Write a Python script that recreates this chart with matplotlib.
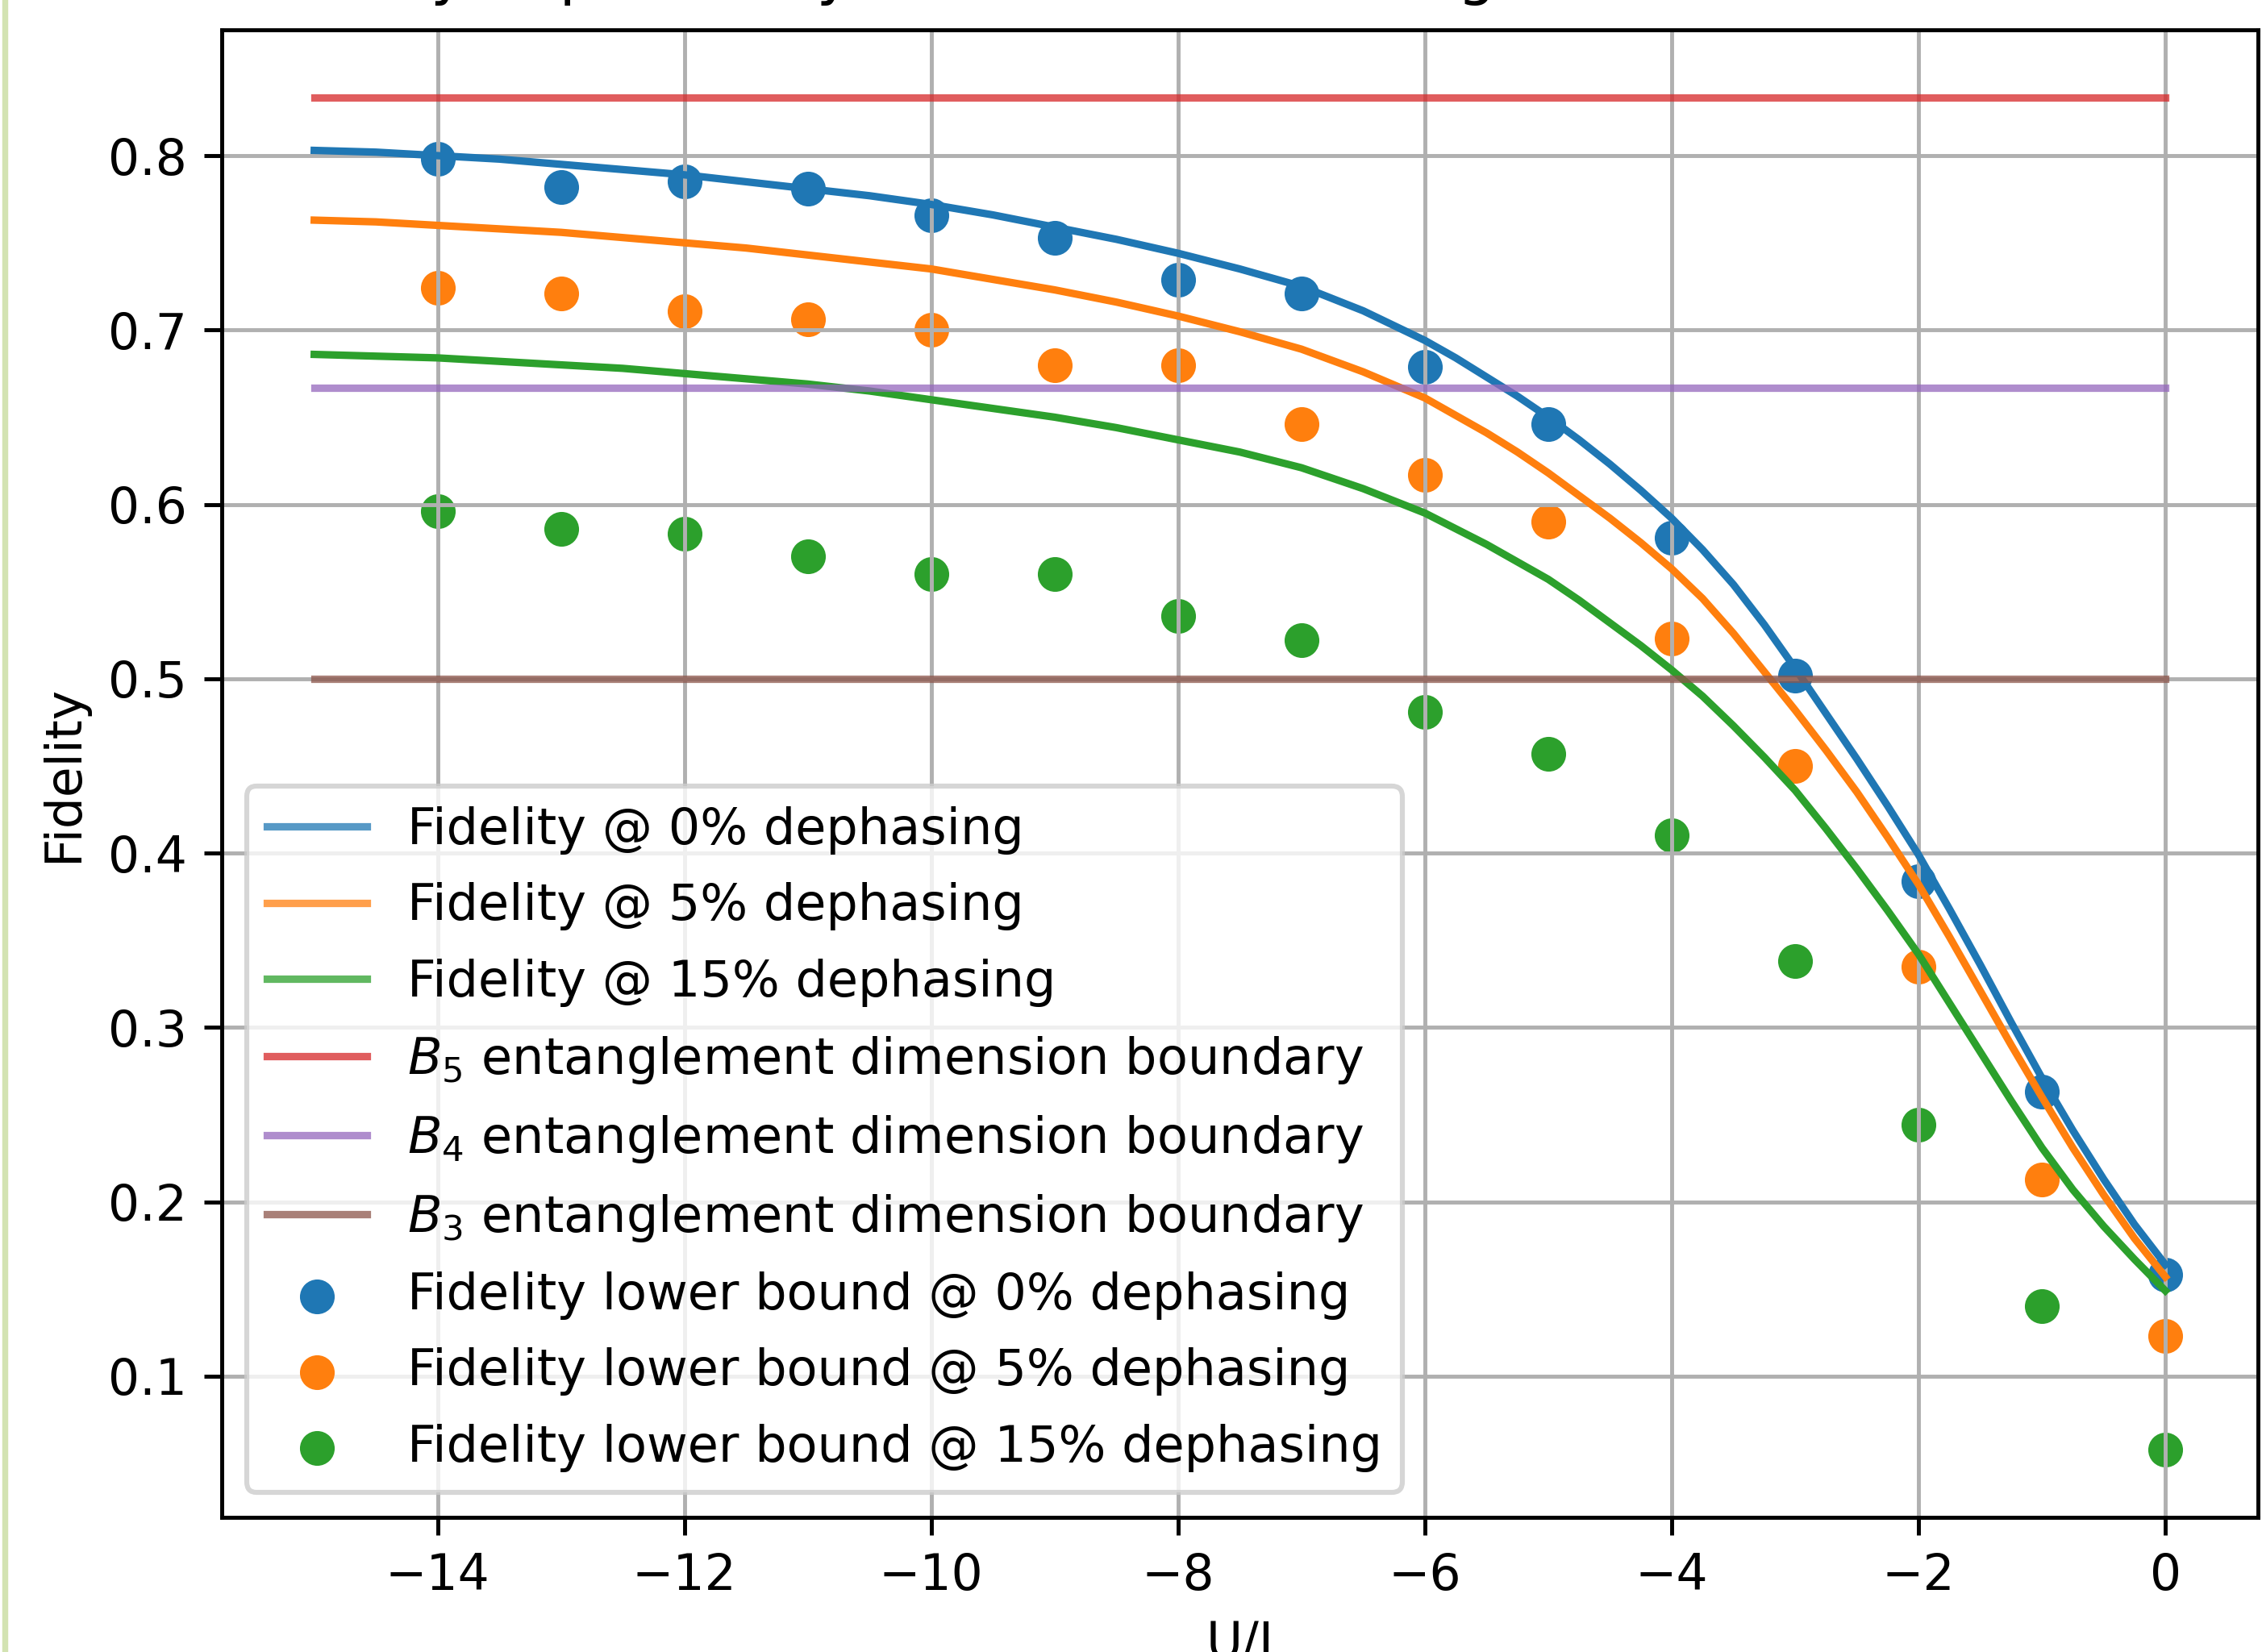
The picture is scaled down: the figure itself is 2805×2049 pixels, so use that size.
import matplotlib.pyplot as plt
from matplotlib.lines import Line2D

# U/J values of the lower-bound points
u_points = [-14, -13, -12, -11, -10, -9, -8, -7, -6, -5, -4, -3, -2, -1, 0]

# fidelity lower bound (dots)
lb_0 = [0.798, 0.782, 0.785, 0.781, 0.766, 0.753, 0.729, 0.721, 0.679, 0.646,
        0.581, 0.502, 0.384, 0.263, 0.158]
lb_5 = [0.724, 0.721, 0.711, 0.706, 0.700, 0.680, 0.680, 0.646, 0.617, 0.590,
        0.523, 0.450, 0.335, 0.213, 0.123]
lb_15 = [0.596, 0.586, 0.583, 0.570, 0.560, 0.560, 0.536, 0.522, 0.481, 0.457,
         0.410, 0.338, 0.244, 0.140, 0.058]

# fidelity curves: every 0.5 in the flat part, every 0.25 where they bend
u_curve = [-15, -14.5, -14, -13.5, -13, -12.5, -12, -11.5, -11, -10.5, -10,
           -9.5, -9, -8.5, -8, -7.5, -7, -6.5, -6, -5.75, -5.5, -5.25, -5,
           -4.75, -4.5, -4.25, -4, -3.75, -3.5, -3.25, -3, -2.75, -2.5, -2.25,
           -2, -1.75, -1.5, -1.25, -1, -0.75, -0.5, -0.25, 0]
fid_0 = [0.803, 0.802, 0.800, 0.798, 0.795, 0.792, 0.789, 0.785, 0.781, 0.777,
         0.772, 0.766, 0.759, 0.752, 0.744, 0.735, 0.725, 0.711, 0.694, 0.684,
         0.673, 0.662, 0.650, 0.637, 0.623, 0.608, 0.592, 0.574, 0.554, 0.531,
         0.506, 0.480, 0.454, 0.427, 0.399, 0.368, 0.336, 0.303, 0.271, 0.241,
         0.213, 0.187, 0.164]
fid_5 = [0.763, 0.762, 0.760, 0.758, 0.756, 0.753, 0.750, 0.747, 0.743, 0.739,
         0.735, 0.729, 0.723, 0.716, 0.708, 0.699, 0.689, 0.676, 0.661, 0.651,
         0.641, 0.630, 0.618, 0.605, 0.592, 0.578, 0.563, 0.546, 0.526, 0.504,
         0.482, 0.459, 0.435, 0.409, 0.382, 0.352, 0.321, 0.290, 0.260, 0.231,
         0.204, 0.179, 0.157]
fid_15 = [0.686, 0.685, 0.684, 0.682, 0.680, 0.678, 0.675, 0.672, 0.669, 0.665,
          0.660, 0.655, 0.650, 0.644, 0.637, 0.630, 0.621, 0.609, 0.595, 0.586,
          0.577, 0.567, 0.557, 0.545, 0.532, 0.519, 0.505, 0.490, 0.473, 0.455,
          0.436, 0.414, 0.391, 0.367, 0.342, 0.314, 0.286, 0.258, 0.231, 0.207,
          0.186, 0.167, 0.149]

# entanglement dimension boundaries
b5 = 5 / 6
b4 = 2 / 3
b3 = 1 / 2

DPI = 443
fig = plt.figure(figsize=(2805 / DPI, 2049 / DPI), dpi=DPI)
ax = fig.add_axes([0.098, 0.0817, 0.9002, 0.9002])

ax.plot(u_curve, fid_0, color='C0', label='Fidelity @ 0% dephasing')
ax.plot(u_curve, fid_5, color='C1', label='Fidelity @ 5% dephasing')
ax.plot(u_curve, fid_15, color='C2', label='Fidelity @ 15% dephasing')

ends = [u_curve[0], u_curve[-1]]
ax.plot(ends, [b5, b5], color='C3', alpha=0.75,
        label='$B_5$ entanglement dimension boundary')
ax.plot(ends, [b4, b4], color='C4', alpha=0.75,
        label='$B_4$ entanglement dimension boundary')
ax.plot(ends, [b3, b3], color='C5', alpha=0.75,
        label='$B_3$ entanglement dimension boundary')

ax.scatter(u_points, lb_0, color='C0', label='Fidelity lower bound @ 0% dephasing')
ax.scatter(u_points, lb_5, color='C1', label='Fidelity lower bound @ 5% dephasing')
ax.scatter(u_points, lb_15, color='C2', label='Fidelity lower bound @ 15% dephasing')

ax.set_xlabel('U/J')
ax.set_ylabel('Fidelity')
# the title sits mostly above the cropped screenshot, only descenders show
ax.set_title('Fidelity dependency on interaction strength in the Hubbard model',
             pad=7.5)
ax.grid(True)

leg = ax.legend(loc='lower left', fontsize=10.1, labelspacing=0.55)
for h in leg.legend_handles[:6]:
    h.set_alpha(0.75)

# thin green border on the left edge of the screenshot
fig.add_artist(Line2D([0.0023, 0.0023], [0, 1], color='#d3e3b2', lw=1.2))

fig.savefig('out.png', dpi=DPI)
